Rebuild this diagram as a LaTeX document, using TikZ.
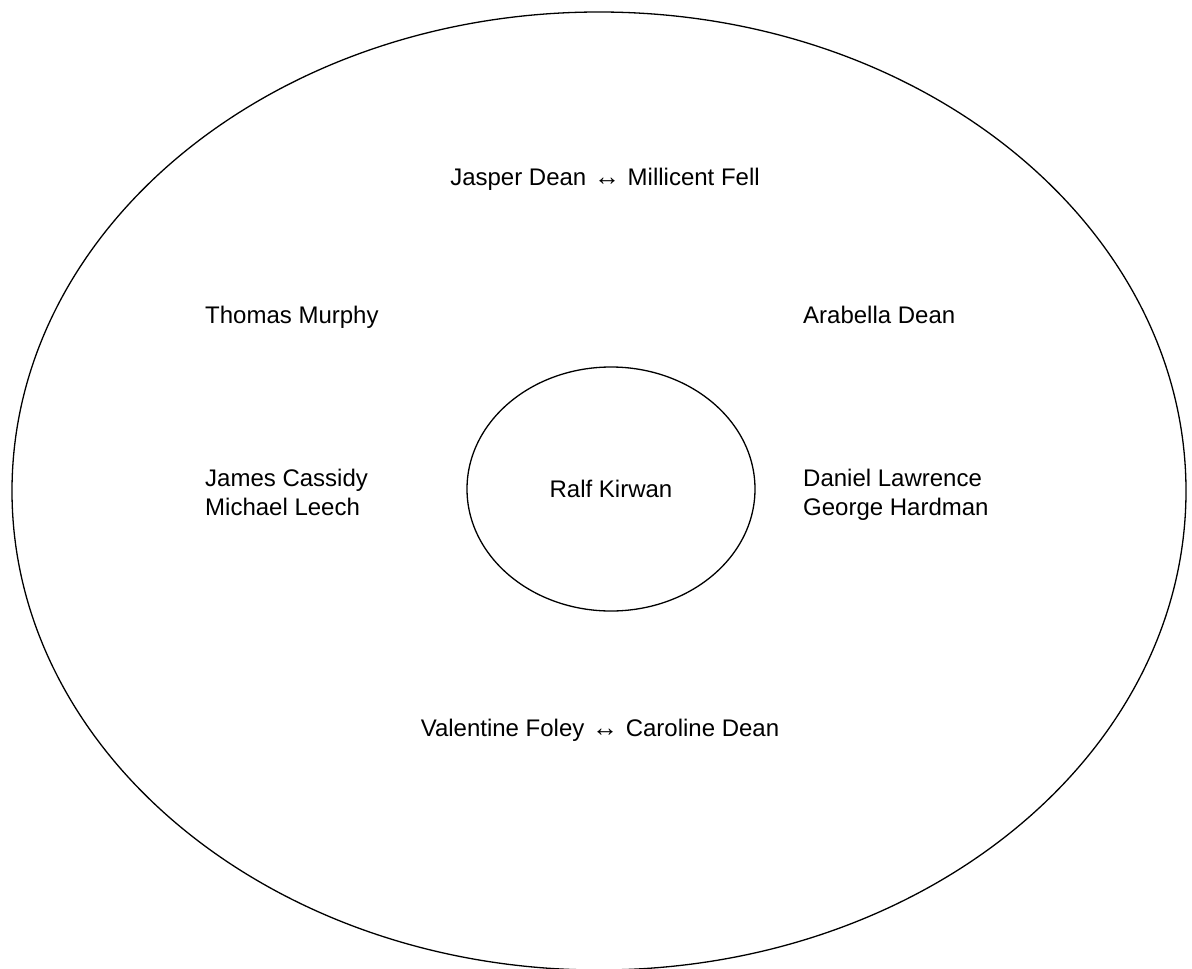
\documentclass[tikz,border=0pt]{standalone}
\usepackage{fontspec}
\setmainfont{Liberation Sans}
\usetikzlibrary{shapes.geometric}
\tikzset{
  ring/.style={draw, ellipse, line width=1.3pt, inner sep=0pt},
  person/.style={font=\fontsize{24}{28.5}\selectfont, inner sep=0pt, align=left},
  couple/.style={font=\fontsize{24}{28.5}\selectfont, inner sep=0pt}
}
\newcommand{\pairarrow}{\hspace{1pt}{\fontsize{26}{28}\selectfont ↔}\hspace{1pt}}

\begin{document}
\begin{tikzpicture}[x=1pt, y=-1pt]
  \useasboundingbox (0,0) rectangle (1192,969);
  % outer and inner circles
  \node[ring, minimum width=1174pt, minimum height=958pt] (outer) at (599,491) {};
  \node[ring, person, minimum width=288pt, minimum height=244pt] (ralf) at (611,489) {Ralf Kirwan};

  % couples, top and bottom
  \node[couple, anchor=base] (jasper) at (605,185) {Jasper Dean \pairarrow{} Millicent Fell};
  \node[couple, anchor=base] (valentine) at (600,736) {Valentine Foley \pairarrow{} Caroline Dean};

  % left side
  \node[person, anchor=base west] (thomas) at (205,323) {Thomas Murphy};
  \node[person, anchor=base west] (james) at (205,515) {James Cassidy\\Michael Leech};

  % right side
  \node[person, anchor=base west] (arabella) at (803,323) {Arabella Dean};
  \node[person, anchor=base west] (daniel) at (803,515) {Daniel Lawrence\\George Hardman};
\end{tikzpicture}
\end{document}
